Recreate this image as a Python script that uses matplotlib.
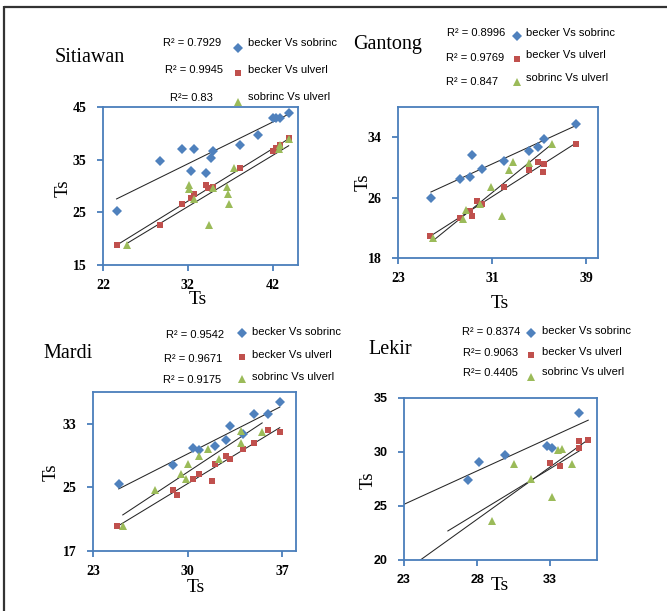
import matplotlib
matplotlib.use('Agg')
import matplotlib.pyplot as plt
import numpy as np

W, H = 667, 611
fig = plt.figure(figsize=(W / 100, H / 100), dpi=100)

BLUE = '#4f81bd'
RED = '#c0504d'
GREEN = '#9bbb59'
SPINE = '#4a7ebb'
SERIF = 'Liberation Serif'
SANS = 'Liberation Sans'

series_labels = ['becker Vs sobrinc', 'becker Vs ulverl', 'sobrinc Vs ulverl']

# ---------------- data ----------------
# Sitiawan
sit_bs_x = [23.6, 28.7, 31.3, 32.7, 32.4, 34.2, 34.7, 35.0, 38.1, 40.3, 42.0, 42.4, 42.9, 43.9]
sit_bs_y = [25.3, 34.7, 37.0, 37.0, 32.9, 32.4, 35.4, 36.7, 37.8, 39.7, 43.0, 43.0, 43.0, 43.9]
sit_bu_x = [23.6, 28.7, 31.3, 32.4, 32.7, 34.2, 34.4, 35.0, 38.1, 42.0, 42.4, 42.9, 43.9]
sit_bu_y = [18.8, 22.6, 26.6, 27.7, 28.4, 30.2, 29.6, 29.8, 33.4, 36.7, 37.2, 37.8, 39.1]
sit_su_x = [24.8, 32.2, 32.2, 32.7, 34.5, 35.0, 36.6, 36.8, 36.9, 37.5, 42.8, 42.9, 43.9]
sit_su_y = [18.8, 30.2, 29.5, 27.5, 22.6, 29.6, 29.9, 28.4, 26.6, 33.4, 37.0, 37.8, 39.0]
sit_r2 = ['R² = 0.7929', 'R² = 0.9945', 'R²= 0.83']

# Gantong
gan_bs_x = [25.8, 28.3, 29.1, 29.3, 30.1, 32.0, 34.1, 34.9, 35.4, 38.1]
gan_bs_y = [25.9, 28.4, 28.7, 31.6, 29.8, 30.8, 32.2, 32.7, 33.7, 35.8]
gan_bu_x = [25.7, 28.3, 29.1, 29.3, 29.7, 30.1, 32.0, 34.1, 34.9, 35.3, 35.4, 38.1]
gan_bu_y = [20.9, 23.3, 24.2, 23.6, 25.6, 25.1, 27.4, 29.7, 30.7, 29.4, 30.5, 33.1]
gan_su_x = [26.0, 28.5, 28.8, 30.0, 30.9, 31.8, 32.4, 32.8, 34.1, 36.1]
gan_su_y = [20.7, 23.1, 24.3, 25.1, 27.4, 23.6, 29.7, 30.7, 30.6, 33.1]
gan_r2 = ['R² = 0.8996', 'R² = 0.9769', 'R² = 0.847']

# Mardi
mar_bs_x = [24.9, 28.9, 30.4, 30.8, 32.0, 32.8, 33.1, 34.1, 34.9, 35.9, 36.8]
mar_bs_y = [25.4, 27.8, 30.0, 29.7, 30.2, 31.0, 32.7, 31.7, 34.2, 34.2, 35.8]
mar_bu_x = [24.8, 28.9, 29.2, 30.4, 30.8, 31.8, 32.0, 32.8, 33.1, 34.1, 34.9, 35.9, 36.8]
mar_bu_y = [20.2, 24.7, 24.1, 26.0, 26.7, 25.8, 27.9, 29.0, 28.6, 29.8, 30.6, 32.2, 32.0]
mar_su_x = [25.2, 27.6, 29.5, 29.9, 30.0, 30.8, 31.5, 32.3, 33.9, 33.9, 35.5]
mar_su_y = [20.2, 24.7, 26.7, 26.0, 27.9, 29.0, 29.8, 28.6, 30.6, 32.1, 32.0]
mar_r2 = ['R² = 0.9542', 'R² = 0.9671', 'R² = 0.9175']

# Lekir
lek_bs_x = [27.4, 28.1, 29.9, 32.8, 33.1, 35.0]
lek_bs_y = [27.4, 29.1, 29.7, 30.6, 30.4, 33.6]
lek_bu_x = [33.0, 33.7, 35.0, 35.0, 35.6]
lek_bu_y = [29.0, 28.7, 30.4, 31.0, 31.1]
lek_su_x = [29.0, 30.5, 31.7, 33.1, 33.5, 33.8, 34.5]
lek_su_y = [23.6, 28.9, 27.5, 25.8, 30.2, 30.3, 28.9]
lek_r2 = ['R² = 0.8374', 'R²= 0.9063', 'R²= 0.4405']
# trendline extents (Excel forecast) for Lekir
lek_fit_range = [(23.0, 35.6), (23.0, 35.6), (26.0, 35.1)]

MARKERS = [('D', BLUE, 4.6), ('s', RED, 5.0), ('^', GREEN, 5.2)]


def px_rect(l, t, r, b):
    return [l / W, 1 - b / H, (r - l) / W, (b - t) / H]


def make_ax(rect, xlim, ylim, xticks, yticks, tickfont, tsize):
    ax = fig.add_axes(px_rect(*rect))
    ax.set_xlim(xlim)
    ax.set_ylim(ylim)
    ax.set_xticks(xticks)
    ax.set_yticks(yticks)
    for s in ax.spines.values():
        s.set_color(SPINE)
        s.set_linewidth(1.3)
    ax.tick_params(axis='both', direction='out', length=4.5, width=1.3, color=SPINE,
                   labelsize=tsize)
    ax.tick_params(axis='y', pad=7.5)
    ax.tick_params(axis='x', pad=5.5)
    for lab in ax.get_xticklabels() + ax.get_yticklabels():
        lab.set_fontfamily(tickfont)
        lab.set_fontweight('bold')
    return ax


def draw_series(ax, xs_list, ys_list, ranges=None):
    for i, (xs, ys) in enumerate(zip(xs_list, ys_list)):
        m, c, ms = MARKERS[i]
        xs = np.asarray(xs)
        ys = np.asarray(ys)
        if ranges is None:
            lo, hi = xs.min(), xs.max()
        else:
            lo, hi = ranges[i]
        p = np.polyfit(xs, ys, 1)
        xx = np.array([lo, hi])
        ax.plot(xx, np.polyval(p, xx), color='#262626', lw=0.75, zorder=2)
        ax.plot(xs, ys, linestyle='none', marker=m, color=c, ms=ms,
                markeredgewidth=0, zorder=3)


panels = [
    dict(rect=(103, 107, 298, 265), xlim=(22, 45), ylim=(15, 45), xt=[22, 32, 42], yt=[15, 25, 35, 45],
         xs=[sit_bs_x, sit_bu_x, sit_su_x], ys=[sit_bs_y, sit_bu_y, sit_su_y], rng=None,
         font=SERIF, tsize=10),
    dict(rect=(398, 107, 598, 258), xlim=(23, 40), ylim=(18, 38), xt=[23, 31, 39], yt=[18, 26, 34],
         xs=[gan_bs_x, gan_bu_x, gan_su_x], ys=[gan_bs_y, gan_bu_y, gan_su_y], rng=None,
         font=SERIF, tsize=10),
    dict(rect=(93, 392, 296, 551), xlim=(23, 38), ylim=(17, 37), xt=[23, 30, 37], yt=[17, 25, 33],
         xs=[mar_bs_x, mar_bu_x, mar_su_x], ys=[mar_bs_y, mar_bu_y, mar_su_y], rng=None,
         font=SERIF, tsize=10),
    dict(rect=(404, 398, 597, 560), xlim=(23, 36.2), ylim=(20, 35), xt=[23, 28, 33], yt=[20, 25, 30, 35],
         xs=[lek_bs_x, lek_bu_x, lek_su_x], ys=[lek_bs_y, lek_bu_y, lek_su_y], rng=lek_fit_range,
         font=SANS, tsize=9),
]

for pnl in panels:
    ax = make_ax(pnl['rect'], pnl['xlim'], pnl['ylim'], pnl['xt'], pnl['yt'], pnl['font'], pnl['tsize'])
    draw_series(ax, pnl['xs'], pnl['ys'], pnl['rng'])

# ---------------- overlay for titles, labels, legends ----------------
ov = fig.add_axes([0, 0, 1, 1])
ov.set_xlim(0, W)
ov.set_ylim(H, 0)
ov.axis('off')

# outer frame (left and top)
ov.plot([4, 4], [6, H], color='#333333', lw=1.6, solid_capstyle='butt')
ov.plot([4, W], [6.5, 6.5], color='#333333', lw=1.6, solid_capstyle='butt')

titles = [('Sitiawan', 55, 57), ('Gantong', 353, 45), ('Mardi', 43, 353), ('Lekir', 368, 350)]
for t, x, y in titles:
    ov.text(x, y, t, family=SERIF, fontsize=14.5, ha='left', va='center')

xlabels = [(198, 300), (500, 303), (196, 587), (500, 586)]
for x, y in xlabels:
    ov.text(x, y, 'Ts', family=SERIF, fontsize=14, ha='center', va='center')

ylabels = [(63, 188), (363, 182), (51, 472), (368, 480)]
for x, y in ylabels:
    ov.text(x, y, 'Ts', family=SERIF, fontsize=13.5, ha='center', va='center', rotation=90)

legends = [
    dict(r2=sit_r2, r2x=[163, 165, 170], r2y=[43, 70, 98], mx=[238, 238, 238], my=[48, 73, 102],
         lx=248, ly=[43, 70, 97]),
    dict(r2=gan_r2, r2x=[447, 446, 446], r2y=[33, 58, 82], mx=[517, 517, 517], my=[36, 59, 82],
         lx=526, ly=[33, 55, 78]),
    dict(r2=mar_r2, r2x=[166, 164, 163], r2y=[335, 359, 380], mx=[242, 242, 242], my=[333, 357, 379],
         lx=252, ly=[332, 355, 377]),
    dict(r2=lek_r2, r2x=[462, 463, 463], r2y=[332, 353, 373], mx=[531, 531, 531], my=[333, 355, 377],
         lx=542, ly=[331, 352, 372]),
]
for lg in legends:
    for i in range(3):
        ov.text(lg['r2x'][i], lg['r2y'][i], lg['r2'][i], family=SANS, fontsize=8,
                ha='left', va='center')
        m, c, ms = MARKERS[i]
        ov.plot([lg['mx'][i]], [lg['my'][i]], linestyle='none', marker=m, color=c,
                ms=ms, markeredgewidth=0, clip_on=False)
        ov.text(lg['lx'], lg['ly'][i], series_labels[i], family=SANS, fontsize=8,
                ha='left', va='center')

fig.savefig('out.png', dpi=100)
